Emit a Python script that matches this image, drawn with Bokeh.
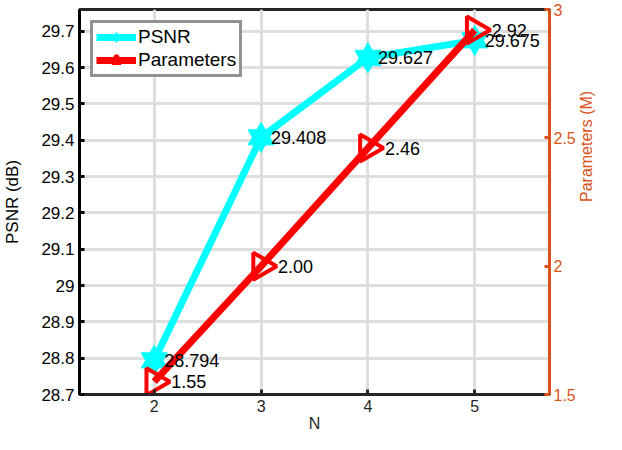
import math
from bokeh.plotting import figure
from bokeh.models import (Range1d, LinearAxis, FixedTicker, PrintfTickFormatter,
                          ColumnDataSource, Legend)
from bokeh.core.properties import value
from bokeh.embed import file_html
from bokeh.resources import INLINE

# ---- data ----
n_values = [2, 3, 4, 5]
psnr = [28.794, 29.408, 29.627, 29.675]
psnr_labels = ["28.794", "29.408", "29.627", "29.675"]
params = [1.55, 2.00, 2.46, 2.92]
params_labels = ["1.55", "2.00", "2.46", "2.92"]
x_ticks = [2, 3, 4, 5]
psnr_ticks = [28.7, 28.8, 28.9, 29.0, 29.1, 29.2, 29.3, 29.4, 29.5, 29.6, 29.7]
param_ticks = [1.5, 2.0, 2.5, 3.0]

FONT = "Liberation Sans"
ORANGE = "#D95319"
CYAN = "#00FFFF"
RED = "#FF0000"
DARK = "#262626"

src_p = ColumnDataSource(dict(x=n_values, y=psnr, t=psnr_labels))
src_m = ColumnDataSource(dict(x=n_values, y=params, t=params_labels))

p = figure(width=606, height=434, output_backend="svg", toolbar_location=None,
           x_range=Range1d(1.3, 5.7), y_range=Range1d(28.7, 29.76),
           min_border_left=0, min_border_right=0, min_border_top=9, min_border_bottom=0)
p.extra_y_ranges = {"params": Range1d(1.5, 3.0)}

p.background_fill_color = "white"
p.outline_line_color = DARK
p.outline_line_width = 3

# grid
p.xgrid.ticker = FixedTicker(ticks=x_ticks)
p.ygrid.ticker = FixedTicker(ticks=psnr_ticks)
for g in (p.xgrid, p.ygrid):
    g.grid_line_color = "#DEDEDE"
    g.grid_line_width = 3


def style_axis(ax, color, size="17px", tick_standoff=5, label_standoff=2):
    ax.axis_line_color = color
    ax.axis_line_width = 3
    ax.major_tick_line_color = color
    ax.major_tick_line_width = 3
    ax.major_tick_in = 5
    ax.major_tick_out = 0
    ax.minor_tick_line_color = None
    ax.major_label_text_font = FONT
    ax.major_label_text_font_size = size
    ax.major_label_text_color = color
    ax.major_label_standoff = tick_standoff
    ax.axis_label_text_font = FONT
    ax.axis_label_text_font_size = size
    ax.axis_label_text_font_style = "normal"
    ax.axis_label_text_color = color
    ax.axis_label_standoff = label_standoff


# bottom axis
xa = p.xaxis[0]
xa.ticker = FixedTicker(ticks=x_ticks)
xa.axis_label = "N"
style_axis(xa, DARK, size="16px", tick_standoff=5, label_standoff=0)

# left axis
ya = p.yaxis[0]
ya.ticker = FixedTicker(ticks=psnr_ticks)
ya.formatter = PrintfTickFormatter(format="%g")
ya.axis_label = "PSNR (dB)"
style_axis(ya, "black", size="17px", tick_standoff=5, label_standoff=16)

# right axis
ra = LinearAxis(y_range_name="params", ticker=FixedTicker(ticks=param_ticks),
                formatter=PrintfTickFormatter(format="%g"), axis_label="Parameters (M)")
style_axis(ra, ORANGE, size="16px", tick_standoff=4, label_standoff=8)
ra.axis_label_orientation = math.pi / 2
p.add_layout(ra, "right")

# PSNR series (hexagram markers built from two triangles)
l1 = p.line("x", "y", source=src_p, line_color=CYAN, line_width=7)
s1a = p.scatter("x", "y", source=src_p, marker="triangle", size=26,
                fill_color=CYAN, line_color=CYAN, line_width=1)
s1b = p.scatter("x", "y", source=src_p, marker="inverted_triangle", size=26,
                fill_color=CYAN, line_color=CYAN, line_width=1)

# Parameters series
l2 = p.line("x", "y", source=src_m, y_range_name="params", line_color=RED, line_width=7)
s2 = p.scatter("x", "y", source=src_m, y_range_name="params", marker="triangle",
               size=27, angle=-math.pi / 2, fill_color=None, line_color=RED, line_width=4)

# value labels
p.text("x", "y", text="t", source=src_p, x_offset=10, text_baseline="middle",
       text_font=value(FONT), text_font_size="18px", text_color="black")
p.text("x", "y", text="t", source=src_m, y_range_name="params", x_offset=17,
       text_baseline="middle", text_font=value(FONT), text_font_size="18px",
       text_color="black")

legend = Legend(items=[("PSNR", [l1, s1a, s1b]), ("Parameters", [l2, s2])],
                location="top_left")
legend.label_text_font = FONT
legend.label_text_font_size = "19px"
legend.label_text_color = "black"
legend.border_line_color = DARK
legend.border_line_width = 3
legend.background_fill_alpha = 1
legend.glyph_width = 40
legend.glyph_height = 22
legend.label_height = 22
legend.spacing = 1
legend.padding = 3
legend.margin = 11
legend.label_standoff = 2
p.add_layout(legend, "center")

open("out.html", "w").write(file_html(p, INLINE))
